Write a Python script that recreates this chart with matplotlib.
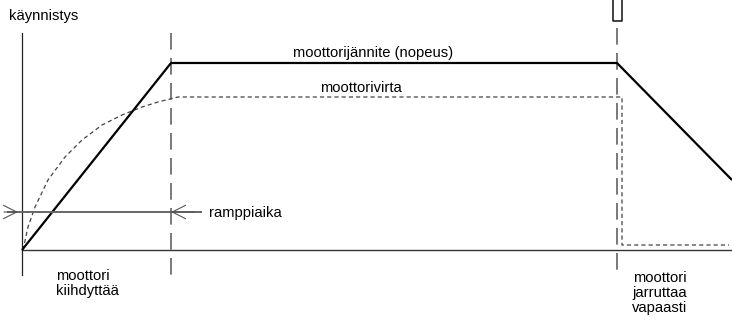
import matplotlib
matplotlib.use("Agg")
import matplotlib.pyplot as plt

plt.rcParams['font.family'] = ['Liberation Sans', 'DejaVu Sans']
plt.rcParams['lines.scale_dashes'] = False

# coordinates (pixels, y grows downward)
t0, t_ramp, t_stop, t_end = 22, 171, 617, 732
y_base, y_top = 250, 33

# motor voltage (speed)
volt_x = [22, 171, 617, 732]
volt_y = [250, 63, 63, 180]

# motor current
curr_x = [23, 28, 35, 48, 65, 82, 102, 122, 142, 158, 178, 617, 622, 622, 729]
curr_y = [250, 227, 207, 180, 157, 140, 125, 115, 107, 102, 97, 97, 97, 245, 245]

# ramp time marker
ramp_y = 212
ramp_x = [8, 201]

# switch symbol above the stop line
sw_x = [613, 613, 622, 622]
sw_y = [0, 20.5, 20.5, 0]

fs = 10.6
fig = plt.figure(figsize=(7.32, 3.2), dpi=100)
ax = fig.add_axes([0, 0, 1, 1])
ax.set_xlim(0, 732)
ax.set_ylim(320, 0)
ax.axis('off')

# axes
ax.plot([t0, t0], [y_top, 275], color='#222222', lw=0.9)
ax.plot([t0, t_end], [y_base, y_base], color='#333333', lw=1.0)

# event lines
ax.plot([t_ramp, t_ramp], [y_top, 275], color='#555555', lw=1.1, dashes=(12, 6))
ax.plot([t_stop, t_stop], [28, 273], color='#555555', lw=1.1, dashes=(12, 6))
ax.plot(sw_x, sw_y, color='#222222', lw=1.2)

# curves
ax.plot(curr_x, curr_y, color='#444444', lw=0.9, dashes=(3, 2.2))
ax.plot(volt_x, volt_y, color='black', lw=1.6, solid_capstyle='butt')

# ramp time arrows
ax.plot(ramp_x, [ramp_y, ramp_y], color='#666666', lw=1.4)
ax.annotate('', xy=(18, ramp_y), xytext=(4, ramp_y),
            arrowprops=dict(arrowstyle='->,head_length=0.6,head_width=0.3',
                            color='#555555', lw=0.8,
                            mutation_scale=16, shrinkA=0, shrinkB=0))
ax.annotate('', xy=(t_ramp, ramp_y), xytext=(195, ramp_y),
            arrowprops=dict(arrowstyle='->,head_length=0.6,head_width=0.3',
                            color='#555555', lw=0.8,
                            mutation_scale=16, shrinkA=0, shrinkB=0))

# labels
ax.text(9, 20, 'käynnistys', fontsize=fs, va='baseline')
ax.text(373, 57, 'moottorijännite (nopeus)', fontsize=fs, ha='center', va='baseline')
ax.text(361, 92, 'moottorivirta', fontsize=fs, ha='center', va='baseline')
ax.text(209, 216.5, 'ramppiaika', fontsize=fs, va='baseline')
ax.text(56, 295, 'moottori\nkiihdyttää', fontsize=fs, va='baseline', linespacing=1.1)
ax.text(660, 312, 'moottori\njarruttaa\nvapaasti', fontsize=fs, ha='center',
        ma='center', va='baseline', linespacing=1.1)

fig.savefig('out.png', dpi=100)
